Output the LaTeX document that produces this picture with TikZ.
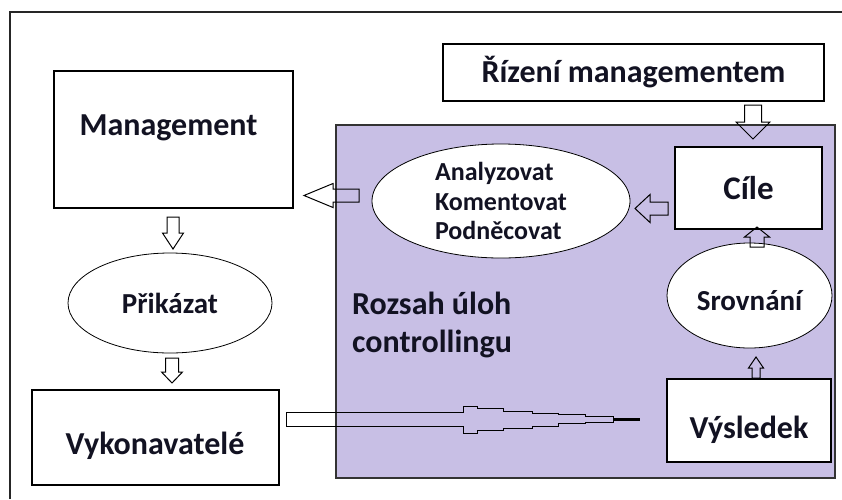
\documentclass[tikz,border=0pt]{standalone}
\usepackage{fontspec}
\setmainfont{Carlito}
\usetikzlibrary{calc,shapes.geometric}
\definecolor{lav}{RGB}{200,191,229}
\definecolor{ink}{RGB}{18,18,34}
\newcommand\blockarr[5]{%
  \coordinate (ba-hb) at ($(#2)!#5!(#1)$);
  \draw[barrow] ($(#1)!#3!-90:(#2)$) -- ($(ba-hb)!#3!-90:(#2)$) -- ($(ba-hb)!#4!-90:(#2)$) -- (#2)
     -- ($(ba-hb)!#4!90:(#2)$) -- ($(ba-hb)!#3!90:(#2)$) -- ($(#1)!#3!90:(#2)$) -- cycle;}
\tikzset{
  frame/.style={draw=black!85, line width=1.2pt},
  box/.style={draw=black, line width=1.3pt, fill=white, inner sep=0pt, text=ink,
     font=\bfseries\fontsize{32}{37}\selectfont},
  oval/.style={ellipse, draw=black, line width=0.8pt, fill=white, inner sep=0pt, text=ink,
     font=\bfseries\fontsize{29}{33}\selectfont},
  lbl/.style={inner sep=0pt, text=ink, font=\bfseries\fontsize{32}{37}\selectfont},
  panel/.style={draw=black!80, line width=1.2pt, fill=lav, inner sep=0pt},
  barrow/.style={draw=black, line width=1pt, line join=miter},
}
\begin{document}
\begin{tikzpicture}[x=1pt,y=-1pt]
\useasboundingbox (0,0) rectangle (842,499);
\draw[frame] (10,499) -- (10,12) -- (842,12);
% boxes
\node[box, minimum width=381, minimum height=57] (rizeni) at (633.5,72.5) {Řízení managementem};
\node[box, minimum width=239, minimum height=137] (mgmt) at (173.5,139.5) {};
\node[lbl] (mgmtT) at (168.5,128) {Management};
\node[oval, minimum width=204, minimum height=100] (prik) at (170,303) {Přikázat};
\node[box, minimum width=247, minimum height=95] (vyk) at (155.5,437.5) {};
\node[lbl] (vykT) at (155,446) {Vykonavatelé};
% controlling panel
\node[panel, minimum width=499, minimum height=353] (ctrl) at (585.5,301.5) {};
\node[oval, minimum width=258, minimum height=114, align=left,
      font=\bfseries\fontsize{26}{29.5}\selectfont] (anal) at (501,201)
      {Analyzovat\\Komentovat\\Podněcovat};
\node[box, minimum width=147, minimum height=82, font=\bfseries\fontsize{33}{38}\selectfont] (cile) at (748.5,188) {Cíle};
\node[oval, minimum width=165, minimum height=105] (srov) at (749.5,295.5) {};
\node[lbl, font=\bfseries\fontsize{29}{33}\selectfont] (srovT) at (749.5,301) {Srovnání};
\node[box, minimum width=164, minimum height=83] (vys) at (749,420.5) {};
\node[lbl] (vysT) at (749,430) {Výsledek};
\node[lbl, anchor=west, align=left, font=\bfseries\fontsize{32}{38}\selectfont] (rozsah) at (352,325)
      {Rozsah úloh\\controllingu};
% block arrows
\coordinate (a1s) at (753,105); \coordinate (a1e) at (753,139);
\blockarr{a1s}{a1e}{8.5pt}{17pt}{17pt}
\coordinate (a2s) at (359,195.5); \coordinate (a2e) at (304,195.5);
\blockarr{a2s}{a2e}{6.5pt}{12pt}{29pt}
\coordinate (a3s) at (668,208.5); \coordinate (a3e) at (635,208.5);
\blockarr{a3s}{a3e}{6.5pt}{14pt}{15pt}
\coordinate (a4s) at (757,247); \coordinate (a4e) at (757,227);
\blockarr{a4s}{a4e}{7pt}{12.5pt}{10pt}
\coordinate (a5s) at (756,378); \coordinate (a5e) at (756,357);
\blockarr{a5s}{a5e}{4pt}{7.5pt}{11pt}
\coordinate (a6s) at (173,217); \coordinate (a6e) at (173,249);
\blockarr{a6s}{a6e}{6pt}{10.5pt}{16pt}
\coordinate (a7s) at (172,358); \coordinate (a7e) at (172,383);
\blockarr{a7s}{a7e}{6.5pt}{10.5pt}{11pt}
% long stepped arrow Vykonavatele -> Vysledek
\coordinate (bigS) at (286,419);
\coordinate (bigE) at (640,419);
\draw[barrow, line width=1pt]
  (bigS |- 0,412) -- (463,412) -- (463,406) -- (477,406) -- (477,408) -- (503,408) -- (503,411)
  -- (532,411) -- (532,413) -- (558,413) -- (558,414) -- (585,414) -- (585,416) -- (613,416)
  -- (613,422) -- (585,422) -- (585,423) -- (558,423) -- (558,426) -- (532,426) -- (532,428)
  -- (503,428) -- (503,430) -- (477,430) -- (477,433) -- (463,433) -- (463,426) -- (bigS |- 0,426) -- cycle;
\draw[line width=3pt] (613,419) -- (bigE);
\end{tikzpicture}
\end{document}
